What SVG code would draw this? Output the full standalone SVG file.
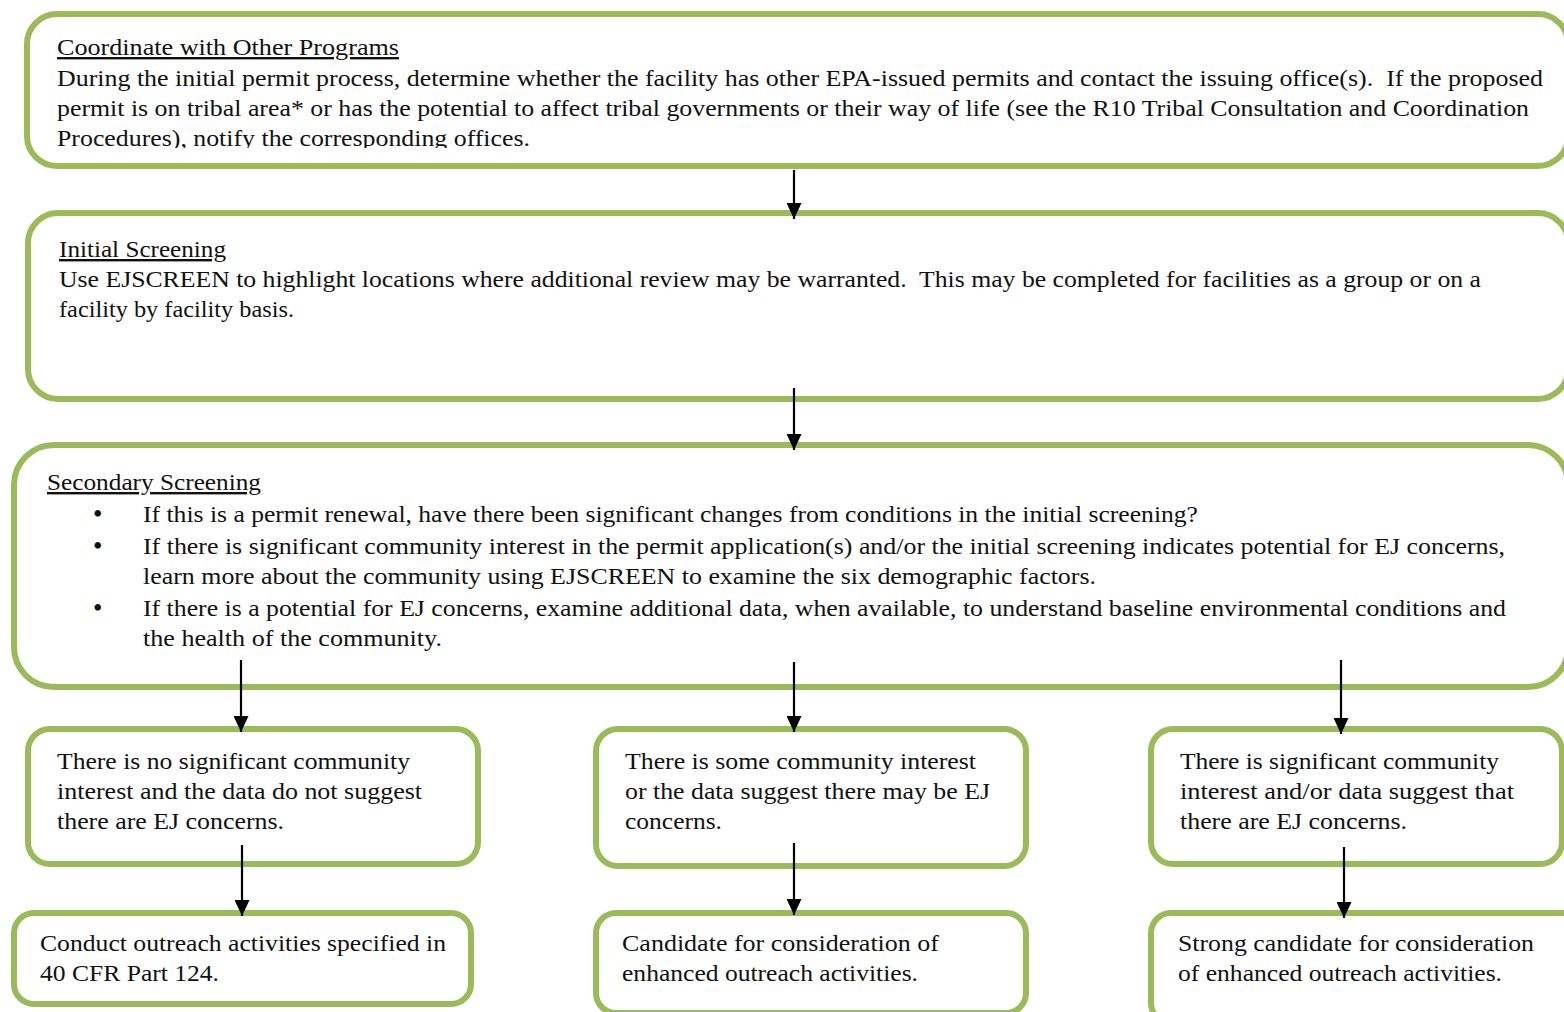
<svg xmlns="http://www.w3.org/2000/svg" width="1564" height="1012" viewBox="0 0 1564 1012">
<style>
.box{fill:#fff;stroke:#9BBB59;stroke-width:6}
text{font-family:'Liberation Serif',serif;font-size:24px;fill:#111}
.u{text-decoration:underline}
.b{font-size:27px}
.c line{stroke:#000;stroke-width:2.2}
</style>
<defs>
<marker id="ah" viewBox="0 0 16 15" refX="16" refY="7.5" markerWidth="16" markerHeight="15" markerUnits="userSpaceOnUse" orient="auto">
<path d="M0,0L16,7.5L0,15z" fill="#000"/>
</marker>
<clipPath id="clip1"><rect x="0" y="0" width="1564" height="148"/></clipPath>
</defs>
<rect width="1564" height="1012" fill="#fff"/>

<g id="n1">
<rect class="box" x="27" y="14" width="1541" height="152" rx="30"/>
<g clip-path="url(#clip1)">
<text x="57" y="55" class="u" textLength="342" lengthAdjust="spacingAndGlyphs">Coordinate with Other Programs</text>
<text x="57" y="86" textLength="1486" lengthAdjust="spacingAndGlyphs">During the initial permit process, determine whether the facility has other EPA-issued permits and contact the issuing office(s).&#160; If the proposed</text>
<text x="57" y="116" textLength="1472" lengthAdjust="spacingAndGlyphs">permit is on tribal area* or has the potential to affect tribal governments or their way of life (see the R10 Tribal Consultation and Coordination</text>
<text x="57" y="146" textLength="473" lengthAdjust="spacingAndGlyphs">Procedures), notify the corresponding offices.</text>
</g>
</g>

<g id="n2">
<rect class="box" x="28" y="213" width="1540" height="186" rx="30"/>
<text x="59" y="257" class="u" textLength="167" lengthAdjust="spacingAndGlyphs">Initial Screening</text>
<text x="59" y="287" textLength="1422" lengthAdjust="spacingAndGlyphs">Use EJSCREEN to highlight locations where additional review may be warranted.&#160; This may be completed for facilities as a group or on a</text>
<text x="59" y="317" textLength="235" lengthAdjust="spacingAndGlyphs">facility by facility basis.</text>
</g>

<g id="n3">
<rect class="box" x="14" y="445" width="1554" height="242" rx="40"/>
<text x="47" y="490" class="u" textLength="214" lengthAdjust="spacingAndGlyphs">Secondary Screening</text>
<text x="93" y="523" class="b">•</text>
<text x="143" y="522" textLength="1055" lengthAdjust="spacingAndGlyphs">If this is a permit renewal, have there been significant changes from conditions in the initial screening?</text>
<text x="93" y="555" class="b">•</text>
<text x="143" y="554" textLength="1362" lengthAdjust="spacingAndGlyphs">If there is significant community interest in the permit application(s) and/or the initial screening indicates potential for EJ concerns,</text>
<text x="143" y="584" textLength="953" lengthAdjust="spacingAndGlyphs">learn more about the community using EJSCREEN to examine the six demographic factors.</text>
<text x="93" y="617" class="b">•</text>
<text x="143" y="616" textLength="1363" lengthAdjust="spacingAndGlyphs">If there is a potential for EJ concerns, examine additional data, when available, to understand baseline environmental conditions and</text>
<text x="143" y="646" textLength="299" lengthAdjust="spacingAndGlyphs">the health of the community.</text>
</g>

<g id="n4">
<rect class="box" x="28" y="729" width="450" height="135" rx="22"/>
<text x="57" y="769" textLength="353" lengthAdjust="spacingAndGlyphs">There is no significant community</text>
<text x="57" y="799" textLength="365" lengthAdjust="spacingAndGlyphs">interest and the data do not suggest</text>
<text x="57" y="829" textLength="227" lengthAdjust="spacingAndGlyphs">there are EJ concerns.</text>
</g>

<g id="n5">
<rect class="box" x="596" y="729" width="430" height="137" rx="22"/>
<text x="625" y="769" textLength="351" lengthAdjust="spacingAndGlyphs">There is some community interest</text>
<text x="625" y="799" textLength="365" lengthAdjust="spacingAndGlyphs">or the data suggest there may be EJ</text>
<text x="625" y="829" textLength="97" lengthAdjust="spacingAndGlyphs">concerns.</text>
</g>

<g id="n6">
<rect class="box" x="1151" y="729" width="411" height="135" rx="22"/>
<text x="1180" y="769" textLength="319" lengthAdjust="spacingAndGlyphs">There is significant community</text>
<text x="1180" y="799" textLength="334" lengthAdjust="spacingAndGlyphs">interest and/or data suggest that</text>
<text x="1180" y="829" textLength="227" lengthAdjust="spacingAndGlyphs">there are EJ concerns.</text>
</g>

<g id="n7">
<rect class="box" x="14" y="913" width="457" height="91" rx="20"/>
<text x="40" y="951" textLength="406" lengthAdjust="spacingAndGlyphs">Conduct outreach activities specified in</text>
<text x="40" y="981" textLength="179" lengthAdjust="spacingAndGlyphs">40 CFR Part 124.</text>
</g>

<g id="n8">
<rect class="box" x="596" y="913" width="430" height="100" rx="20"/>
<text x="622" y="951" textLength="317" lengthAdjust="spacingAndGlyphs">Candidate for consideration of</text>
<text x="622" y="981" textLength="296" lengthAdjust="spacingAndGlyphs">enhanced outreach activities.</text>
</g>

<g id="n9">
<rect class="box" x="1151" y="913" width="450" height="110" rx="20"/>
<text x="1178" y="951" textLength="356" lengthAdjust="spacingAndGlyphs">Strong candidate for consideration</text>
<text x="1178" y="981" textLength="324" lengthAdjust="spacingAndGlyphs">of enhanced outreach activities.</text>
</g>

<g id="connectors" class="c">
<line x1="794" y1="170" x2="794" y2="219" marker-end="url(#ah)"/>
<line x1="794" y1="388" x2="794" y2="450" marker-end="url(#ah)"/>
<line x1="241" y1="660" x2="241" y2="732" marker-end="url(#ah)"/>
<line x1="794" y1="662" x2="794" y2="732" marker-end="url(#ah)"/>
<line x1="1341" y1="660" x2="1341" y2="734" marker-end="url(#ah)"/>
<line x1="242" y1="845" x2="242" y2="916" marker-end="url(#ah)"/>
<line x1="794" y1="843" x2="794" y2="915" marker-end="url(#ah)"/>
<line x1="1344" y1="847" x2="1344" y2="918" marker-end="url(#ah)"/>
</g>
</svg>
